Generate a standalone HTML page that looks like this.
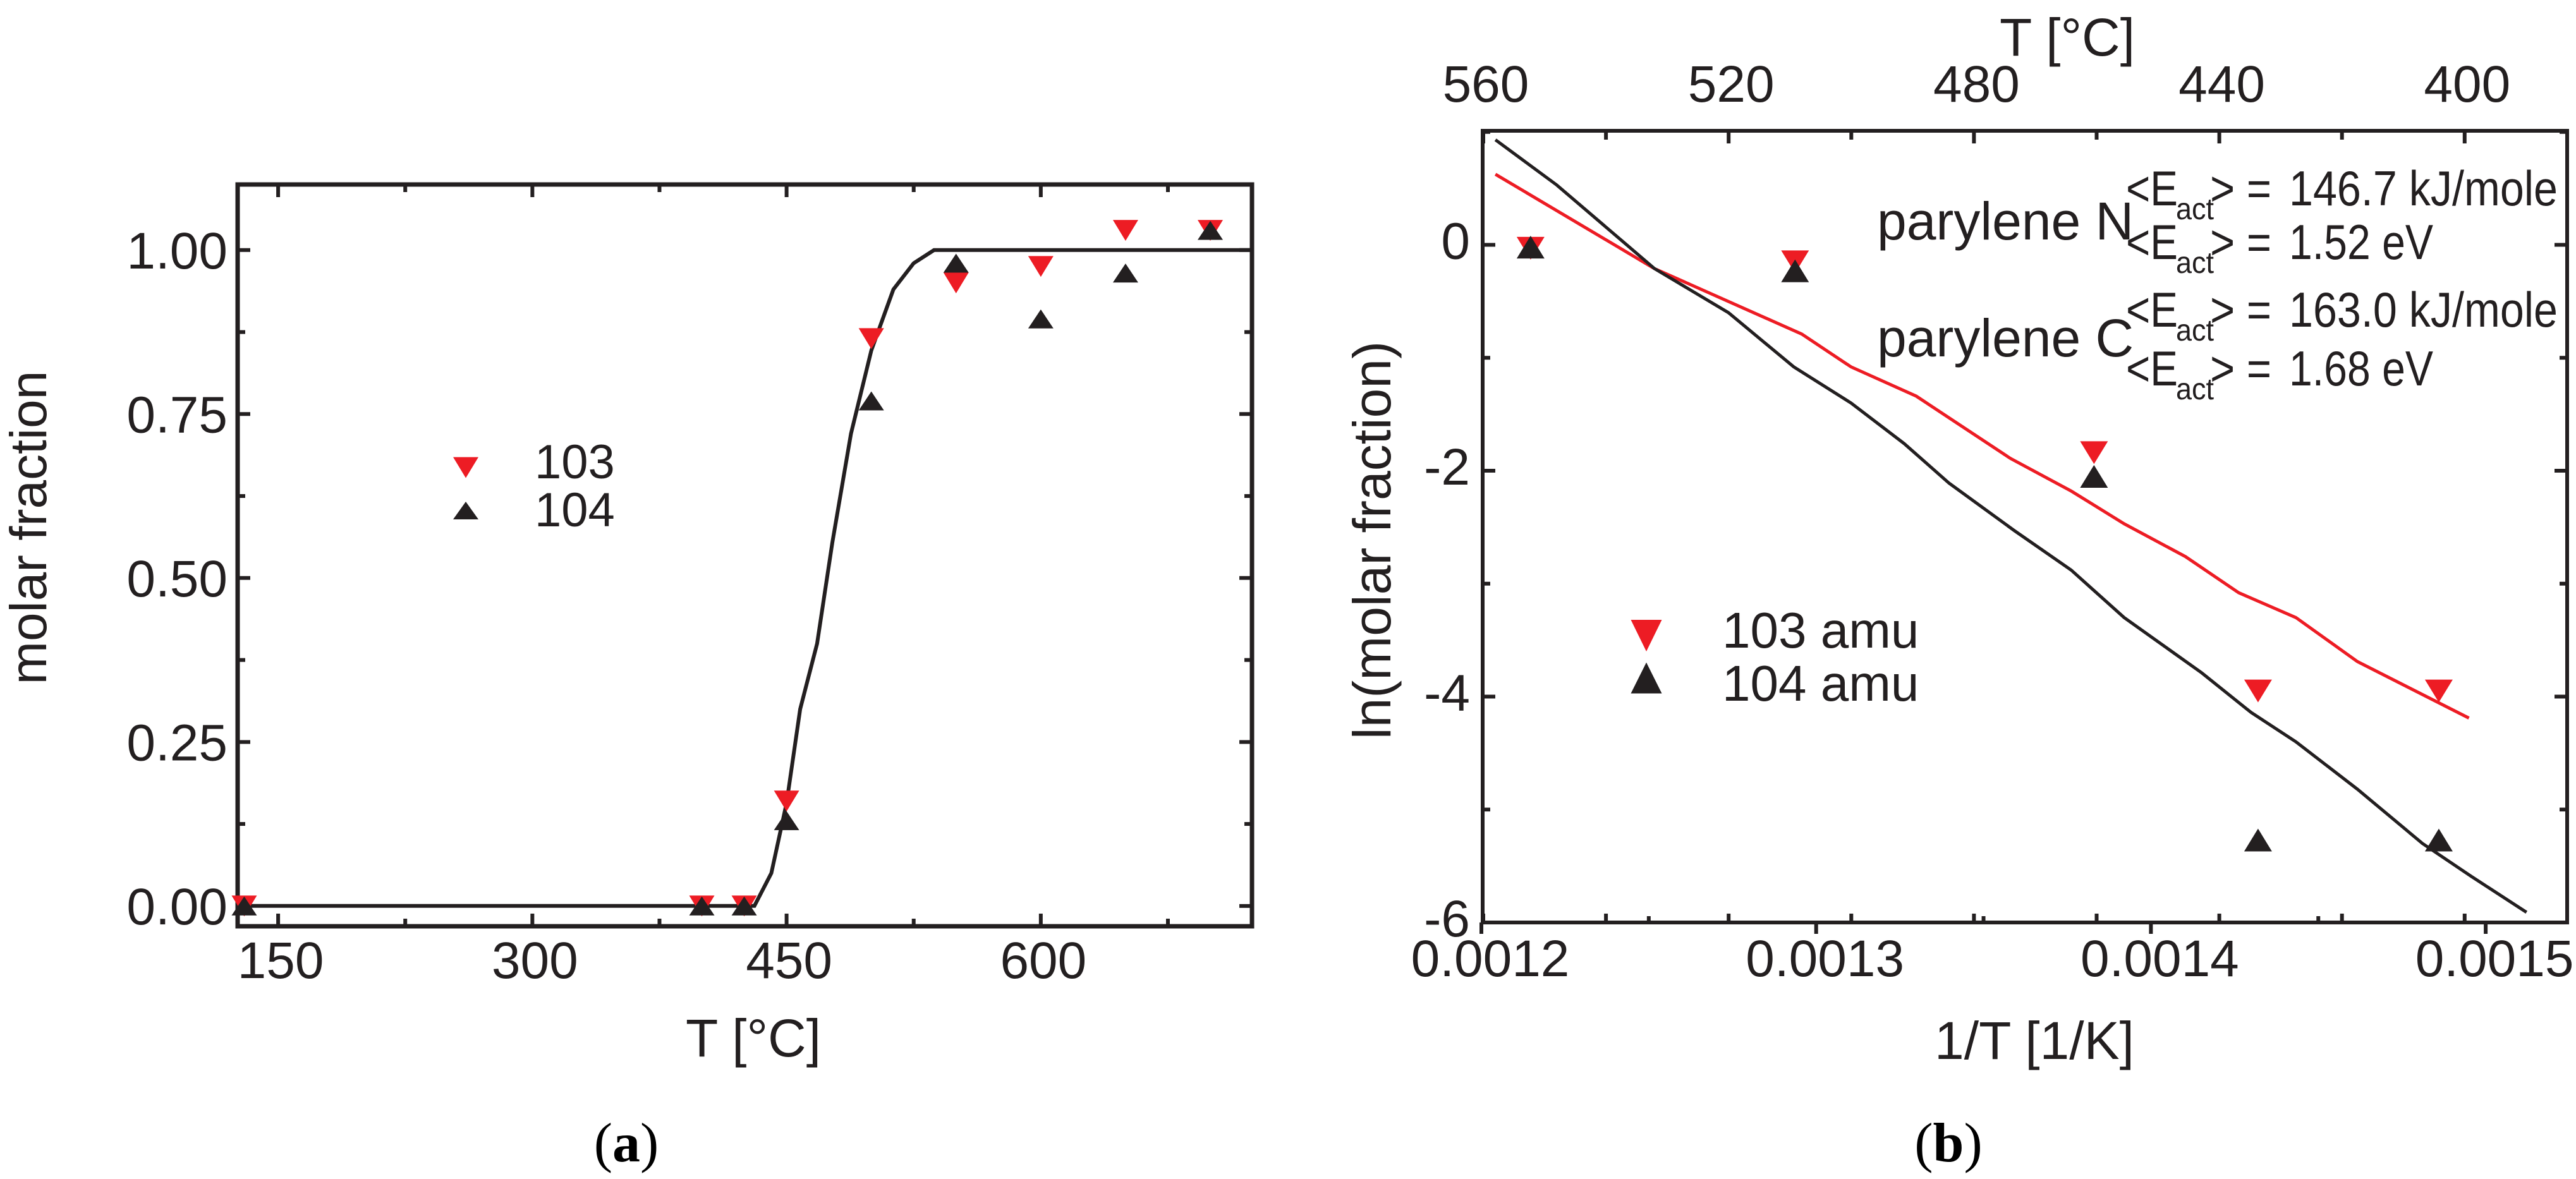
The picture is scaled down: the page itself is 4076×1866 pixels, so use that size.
<!DOCTYPE html>
<html><head><meta charset="utf-8"><style>
html,body{margin:0;padding:0;background:#fff;}
svg{display:block;font-family:"Liberation Sans",Arial,sans-serif;}
</style></head><body>
<svg id="fig" width="4076" height="1866" viewBox="0 0 4076 1866" xmlns="http://www.w3.org/2000/svg">
<rect width="4076" height="1866" fill="#fff"/>
<g id="pa"></g>
<g id="pb"></g>
</svg>
<script>
// ---------- Panel (a) data ----------
const aTemps = [130, 400, 425, 450, 500, 550, 600, 650, 700];
const a103 = [0, 0, 0, 0.16, 0.865, 0.95, 0.975, 1.03, 1.03];
const a104 = [0, 0, 0, 0.13, 0.77, 0.98, 0.895, 0.965, 1.03];
const aFitT = [126, 431, 441, 450, 458, 468, 477, 488, 500, 513, 525, 537, 725];
const aFitY = [0, 0, 0.05, 0.157, 0.30, 0.40, 0.554, 0.72, 0.847, 0.94, 0.98, 1.0, 1.0];
const aXTicks = [150, 300, 450, 600];
const aYTicks = [0, 0.25, 0.5, 0.75, 1.0];
const aYLabels = ["0.00", "0.25", "0.50", "0.75", "1.00"];

// ---------- Panel (b) data ----------
const bInvT = [0.0012147, 0.0012937, 0.001383, 0.001432, 0.001486];
const b103 = [-0.03, -0.15, -1.84, -3.95, -3.95];
const b104 = [-0.02, -0.23, -2.05, -5.27, -5.27];
const bFitRX = [0.0012042, 0.0012517, 0.0012957, 0.0013104, 0.0013299, 0.001358, 0.0013762, 0.001392, 0.0014103, 0.0014262, 0.0014433, 0.0014617, 0.001495];
const bFitRY = [0.625, -0.21, -0.79, -1.08, -1.34, -1.89, -2.18, -2.47, -2.76, -3.08, -3.30, -3.69, -4.19];
const bFitKX = [0.0012042, 0.0012225, 0.0012517, 0.0012738, 0.0012933, 0.0013104, 0.0013263, 0.0013397, 0.0013592, 0.0013762, 0.001392, 0.0014152, 0.0014299, 0.0014433, 0.0014617, 0.0014811, 0.0014956, 0.0015122];
const bFitKY = [0.93, 0.53, -0.21, -0.60, -1.08, -1.40, -1.76, -2.11, -2.53, -2.88, -3.30, -3.79, -4.14, -4.40, -4.82, -5.30, -5.59, -5.91];
const bXTicks = [0.0012, 0.0013, 0.0014, 0.0015];
const bXLabels = ["0.0012", "0.0013", "0.0014", "0.0015"];
const bYTicks = [0, -2, -4, -6];
const bYLabels = ["0", "-2", "-4", "-6"];
const bTopTicks = [560, 520, 480, 440, 400];

const NS = "http://www.w3.org/2000/svg";
const RED = "#ed1c24", BLK = "#231f20";
function mk(parent, tag, attrs, text) {
  const e = document.createElementNS(NS, tag);
  for (const k in attrs) e.setAttribute(k, attrs[k]);
  if (text !== undefined) e.textContent = text;
  parent.appendChild(e);
  return e;
}
function tri(parent, cx, cy, w, h, down, color) {
  const pts = down
    ? `${cx - w/2},${cy - h/2} ${cx + w/2},${cy - h/2} ${cx},${cy + h/2}`
    : `${cx - w/2},${cy + h/2} ${cx + w/2},${cy + h/2} ${cx},${cy - h/2}`;
  return mk(parent, "polygon", {points: pts, fill: color});
}

// ================= Panel A =================
(function(){
  const g = document.getElementById("pa");
  const L = 376, R = 1981, T = 292, B = 1466;
  const xmin = 126.1, xmax = 724.6, ymin = -0.031, ymax = 1.100;
  const X = v => L + (v - xmin) / (xmax - xmin) * (R - L);
  const Y = v => B - (v - ymin) / (ymax - ymin) * (B - T);
  const axes = mk(g, "g", {stroke: BLK, "stroke-width": 7, fill: "none"});
  
  
  mk(axes, "rect", {x: L, y: T, width: R - L, height: B - T});
  for (let v = 150; v <= 700; v += 75) {
    const major = (v - 150) % 150 === 0;
    const len = major ? 20 : 12;
    mk(axes, "line", {x1: X(v), x2: X(v), y1: B, y2: B - len, "stroke-width": 6});
    mk(axes, "line", {x1: X(v), x2: X(v), y1: T, y2: T + len, "stroke-width": 6});
  }
  for (let v = 0; v <= 1.0001; v += 0.125) {
    const major = Math.abs((v / 0.25) - Math.round(v / 0.25)) < 1e-6;
    const len = major ? 20 : 12;
    mk(axes, "line", {x1: L, x2: L + len, y1: Y(v), y2: Y(v), "stroke-width": 6});
    mk(axes, "line", {x1: R, x2: R - len, y1: Y(v), y2: Y(v), "stroke-width": 6});
  }
  aXTicks.forEach(v => {
    const t = mk(g, "text", {x: X(v) + 4, y: 1548, "font-size": 82, "text-anchor": "middle", fill: BLK}, String(v));
    
    
  });
  aYTicks.forEach((v, i) => {
    const t = mk(g, "text", {x: 360, y: Y(v) + 29, "font-size": 82, "text-anchor": "end", fill: BLK}, aYLabels[i]);
    
    
  });
  const xt = mk(g, "text", {x: 1192, y: 1672, "font-size": 84, "text-anchor": "middle", fill: BLK}, "T [°C]");
  
  
  const yt = mk(g, "text", {x: 0, y: 0, "font-size": 82, "text-anchor": "middle", fill: BLK, transform: "translate(73,835) rotate(-90)"}, "molar fraction");
  
  
  const d = aFitT.map((t, i) => (i ? "L" : "M") + X(t).toFixed(1) + "," + Y(aFitY[i]).toFixed(1)).join(" ");
  const fit = mk(g, "path", {d: d, stroke: BLK, "stroke-width": 6, fill: "none"});
  
  
  aTemps.forEach((t, i) => {
    const p = tri(g, X(t), Y(a103[i]), 40, 33, true, RED);
    
    
  });
  aTemps.forEach((t, i) => {
    const p = tri(g, X(t), Y(a104[i]), 40, 30, false, BLK);
    
    
  });
  const l1 = tri(g, 737, 740, 40, 33, true, RED);
  
  
  const l2 = tri(g, 737, 808, 40, 28, false, BLK);
  
  
  const lt1 = mk(g, "text", {x: 846, y: 757, "font-size": 76, fill: BLK}, "103");
  
  
  const lt2 = mk(g, "text", {x: 846, y: 833, "font-size": 76, fill: BLK}, "104");
  
  
  const cap = mk(g, "text", {x: 991, y: 1838, "font-size": 88, "text-anchor": "middle", fill: "#000", "font-family": "Liberation Serif, serif"});
  
  
  cap.innerHTML = '(<tspan font-weight="bold">a</tspan>)';
})();

// ================= Panel B =================
(function(){
  const g = document.getElementById("pb");
  const L = 2346, R = 4062, T = 207, B = 1460;
  const xmin = 0.0012, ymin = -6, ymax = 1.01;
  const X = v => 2344 + (v - xmin) / 0.0001 * 529.7;
  const Y = v => B - (v - ymin) / (ymax - ymin) * (B - T);
  const XT = t => 2347 + (560 - t) / 20 * 194.1;
  const axes = mk(g, "g", {stroke: BLK, "stroke-width": 6, fill: "none"});
  
  
  mk(axes, "rect", {x: L, y: T, width: R - L, height: B - T});
  for (let t = 560; t >= 380; t -= 20) {
    const x = XT(t);
    if (x > R) break;
    const major = t % 40 === 0;
    mk(axes, "line", {x1: x, x2: x, y1: T, y2: T + (major ? 20 : 14)});
    mk(axes, "line", {x1: x, x2: x, y1: B, y2: B - 14});
  }
  for (let k = 0; k <= 6; k++) {
    const v = 0.0012 + k * 0.00005;
    const x = X(v);
    if (x > R) break;
    mk(axes, "line", {x1: x, x2: x, y1: B, y2: B + (k % 2 === 0 ? 18 : 0)});
    mk(axes, "line", {x1: x, x2: x, y1: B, y2: B - (k % 2 === 0 ? 0 : 10)});
  }
  for (let v = -6; v <= 1; v += 1) {
    const major = v % 2 === 0;
    const len = major ? 20 : 12;
    mk(axes, "line", {x1: L, x2: L + len, y1: Y(v), y2: Y(v)});
    mk(axes, "line", {x1: R, x2: R - len, y1: Y(v), y2: Y(v)});
  }
  bXTicks.forEach((v, i) => {
    const t = mk(g, "text", {x: X(v) + 14, y: 1545, "font-size": 82, "text-anchor": "middle", fill: BLK}, bXLabels[i]);
    
    
  });
  bYTicks.forEach((v, i) => {
    const t = mk(g, "text", {x: 2326, y: Y(v) + 22, "font-size": 82, "text-anchor": "end", fill: BLK}, bYLabels[i]);
    
    
  });
  bTopTicks.forEach(t => {
    const e = mk(g, "text", {x: XT(t) + 4, y: 161, "font-size": 82, "text-anchor": "middle", fill: BLK}, String(t));
    
    
  });
  const tt = mk(g, "text", {x: 3271, y: 88, "font-size": 84, "text-anchor": "middle", fill: BLK}, "T [°C]");
  
  
  const xt = mk(g, "text", {x: 3219, y: 1676, "font-size": 84, "text-anchor": "middle", fill: BLK}, "1/T [1/K]");
  
  
  const yt = mk(g, "text", {x: 0, y: 0, "font-size": 84, "text-anchor": "middle", fill: BLK, transform: "translate(2200,855) rotate(-90)"}, "ln(molar fraction)");
  
  
  const dr = bFitRX.map((x, i) => (i ? "L" : "M") + X(x).toFixed(1) + "," + Y(bFitRY[i]).toFixed(1)).join(" ");
  const fr = mk(g, "path", {d: dr, stroke: RED, "stroke-width": 5, fill: "none"});
  
  
  const dk = bFitKX.map((x, i) => (i ? "L" : "M") + X(x).toFixed(1) + "," + Y(bFitKY[i]).toFixed(1)).join(" ");
  const fk = mk(g, "path", {d: dk, stroke: BLK, "stroke-width": 5, fill: "none"});
  
  
  bInvT.forEach((x, i) => {
    const p = tri(g, X(x), Y(b103[i]), 44, 36, true, RED);
    
    
  });
  bInvT.forEach((x, i) => {
    const p = tri(g, X(x), Y(b104[i]), 44, 36, false, BLK);
    
    
  });
  const l1 = tri(g, 2605, 1006, 49, 50, true, RED);
  
  
  const l2 = tri(g, 2605, 1073, 49, 49, false, BLK);
  
  
  const lt1 = mk(g, "text", {x: 2725, y: 1025, "font-size": 80, fill: BLK}, "103 amu");
  
  
  const lt2 = mk(g, "text", {x: 2725, y: 1109, "font-size": 80, fill: BLK}, "104 amu");
  
  
  const pn = mk(g, "text", {x: 2970, y: 379, "font-size": 84, fill: BLK}, "parylene N");
  
  
  const pc = mk(g, "text", {x: 2970, y: 564, "font-size": 84, fill: BLK}, "parylene C");
  
  
  const eLines = [[325, "146.7 kJ/mole", 425], [410, "1.52 eV", 228], [517, "163.0 kJ/mole", 425], [610, "1.68 eV", 228]];
  eLines.forEach(([yb, val, w]) => {
    const a = mk(g, "text", {x: 3364, y: yb, "font-size": 78, fill: BLK, textLength: 82, lengthAdjust: "spacingAndGlyphs"}, "<E");
    
    
    const s = mk(g, "text", {x: 3443, y: yb + 22, "font-size": 48, fill: BLK, textLength: 60, lengthAdjust: "spacingAndGlyphs"}, "act");
    
    
    const c = mk(g, "text", {x: 3497, y: yb, "font-size": 78, fill: BLK, textLength: 97, lengthAdjust: "spacingAndGlyphs"}, "> =");
    
    
    const v = mk(g, "text", {x: 3622, y: yb, "font-size": 78, fill: BLK, textLength: w, lengthAdjust: "spacingAndGlyphs"}, val);
    
    
  });
  const cap = mk(g, "text", {x: 3083, y: 1838, "font-size": 88, "text-anchor": "middle", fill: "#000", "font-family": "Liberation Serif, serif"});
  
  
  cap.innerHTML = '(<tspan font-weight="bold">b</tspan>)';
})();
</script>
</body></html>
